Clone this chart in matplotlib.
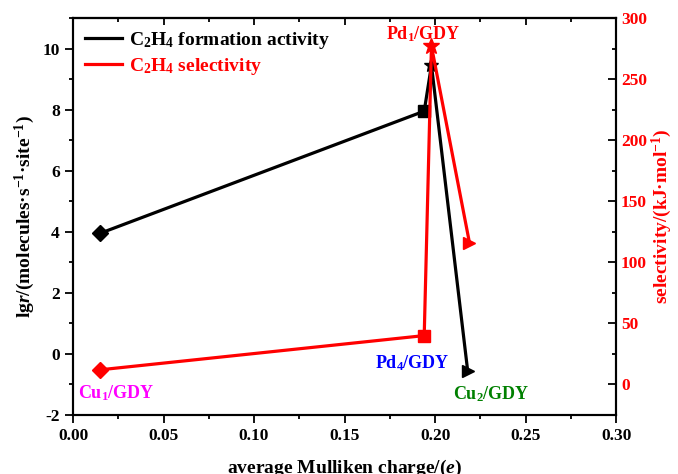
import numpy as np
import matplotlib.pyplot as plt
from matplotlib.ticker import MultipleLocator

plt.rcParams['font.family'] = ['Liberation Serif', 'DejaVu Serif']
plt.rcParams['font.weight'] = 'bold'
plt.rcParams['axes.unicode_minus'] = False
plt.rcParams['mathtext.fontset'] = 'custom'
plt.rcParams['mathtext.rm'] = 'Liberation Serif:bold'
plt.rcParams['mathtext.it'] = 'Liberation Serif:italic:bold'
plt.rcParams['mathtext.bf'] = 'Liberation Serif:bold'

# data
charge = [0.015, 0.194, 0.198, 0.218]
activity = [3.95, 7.95, 9.45, -0.55]
sel_charge = [0.015, 0.194, 0.198, 0.219]
selectivity = [12, 40, 277, 116]
markers = ['D', 's', '*', '>']
names = ['Cu$_1$/GDY', 'Pd$_4$/GDY', 'Pd$_1$/GDY', 'Cu$_2$/GDY']

fig = plt.figure(figsize=(6.78, 4.74), dpi=100)
ax = fig.add_axes([0.1077, 0.1245, 0.801, 0.8375])
ax2 = ax.twinx()

l1, = ax.plot(charge, activity, color='black', lw=2.3, zorder=3)
for x, y, m in zip(charge, activity, markers):
    ax.plot(x, y, marker=m, color='black', ms=11 if m == '*' else 8.5, zorder=4)

l2, = ax2.plot(sel_charge, selectivity, color='red', lw=2.3, zorder=3)
for x, y, m in zip(sel_charge, selectivity, markers):
    ax2.plot(x, y, marker=m, color='red', ms=12 if m == '*' else 8.5, zorder=4)

ax.set_xlim(0, 0.30)
ax.set_ylim(-2, 11)
ax2.set_ylim(-25, 300)
ax.xaxis.set_major_locator(MultipleLocator(0.05))
ax.xaxis.set_minor_locator(MultipleLocator(0.025))
ax.yaxis.set_major_locator(MultipleLocator(2))
ax.yaxis.set_minor_locator(MultipleLocator(1))
ax2.yaxis.set_major_locator(MultipleLocator(50))
ax2.yaxis.set_minor_locator(MultipleLocator(25))
ax.xaxis.set_major_formatter(plt.FuncFormatter(lambda v, p: '%.2f' % v))

ax.tick_params(axis='x', which='both', direction='out', labelsize=12.5, width=1.3)
ax.tick_params(axis='x', which='major', length=6)
ax.tick_params(axis='x', which='minor', length=3)
ax.tick_params(axis='y', which='both', direction='out', labelsize=12.5, width=1.3)
ax.tick_params(axis='y', which='major', length=6)
ax.tick_params(axis='y', which='minor', length=3)
ax2.tick_params(axis='y', which='both', direction='in', labelsize=12.5, width=1.3, labelcolor='red')
ax2.tick_params(axis='y', which='major', length=6)
ax2.tick_params(axis='y', which='minor', length=3)
secx = ax.secondary_xaxis('top')
secx.xaxis.set_major_locator(MultipleLocator(0.05))
secx.xaxis.set_minor_locator(MultipleLocator(0.025))
secx.tick_params(axis='x', which='both', direction='in', labeltop=False, width=1.3)
secx.tick_params(axis='x', which='major', length=5)
secx.tick_params(axis='x', which='minor', length=3)
for a in (ax, ax2):
    for s in a.spines.values():
        s.set_linewidth(1.5)
secx.spines['top'].set_linewidth(1.5)

ax.set_ylabel('lg$r$/(molecules·s$^{-1}$·site$^{-1}$)', fontsize=14, fontweight='bold', labelpad=4)
ax2.set_ylabel('selectivity/(kJ·mol$^{-1}$)', fontsize=14, fontweight='bold', color='red', labelpad=2)
ax.set_xlabel('average Mulliken charge/($e$)', fontsize=14, fontweight='bold', labelpad=10)

leg = ax.legend([l1, l2], ['C$_2$H$_4$ formation activity', 'C$_2$H$_4$ selectivity'],
                loc='upper left', frameon=False, fontsize=14, handlelength=1.9,
                handletextpad=0.4, borderaxespad=0.2, labelspacing=0.25,
                bbox_to_anchor=(0.0, 1.0))
leg.get_texts()[1].set_color('red')

ax.text(0.003, -1.45, names[0], color='magenta', fontsize=13, fontweight='bold')
ax.text(0.167, -0.46, names[1], color='blue', fontsize=13, fontweight='bold')
ax.text(0.1937, 10.3, names[2], color='red', fontsize=13, fontweight='bold', ha='center')
ax.text(0.210, -1.48, names[3], color='green', fontsize=13, fontweight='bold')

fig.savefig('out.png', dpi=100)
